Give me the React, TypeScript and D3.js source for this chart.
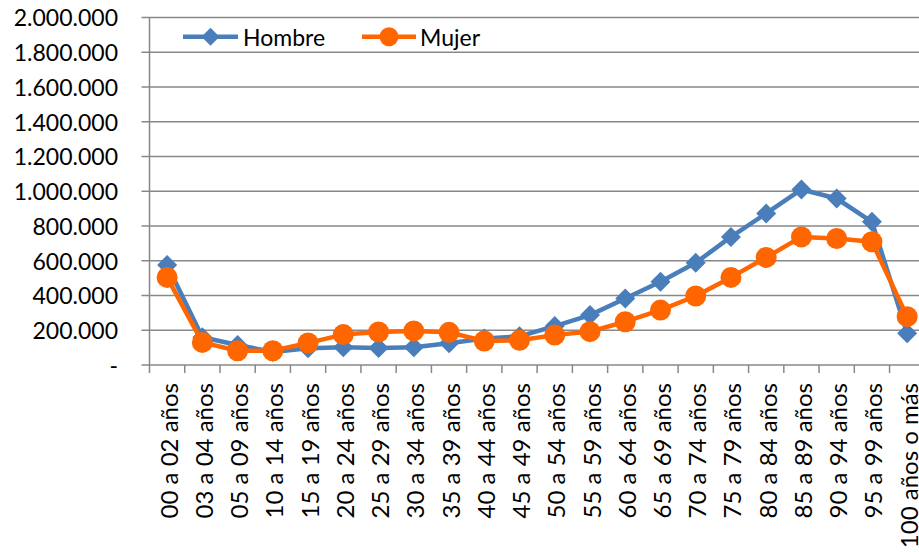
import React from "react";
import * as d3 from "d3";

const categories = [
  "00 a 02 años", "03 a 04 años", "05 a 09 años", "10 a 14 años", "15 a 19 años",
  "20 a 24 años", "25 a 29 años", "30 a 34 años", "35 a 39 años", "40 a 44 años",
  "45 a 49 años", "50 a 54 años", "55 a 59 años", "60 a 64 años", "65 a 69 años",
  "70 a 74 años", "75 a 79 años", "80 a 84 años", "85 a 89 años", "90 a 94 años",
  "95 a 99 años", "100 años o más",
];
const hombre = [
  575000, 160000, 115000, 75000, 96000, 102000, 98000, 102000, 125000, 153000,
  165000, 224000, 287000, 383000, 479000, 588000, 737000, 872000, 1010000, 958000,
  824000, 182000,
];
const mujer = [
  504000, 130000, 82000, 82000, 127000, 175000, 190000, 196000, 188000, 138000,
  142000, 172000, 192000, 249000, 316000, 397000, 504000, 619000, 737000, 728000,
  709000, 278000,
];
const yTicks = [0, 200000, 400000, 600000, 800000, 1000000, 1200000, 1400000, 1600000, 1800000, 2000000];
const seriesNames = ["Hombre", "Mujer"];

const W = 919, H = 552;
const BLUE = "#4A7EBB";
const ORANGE = "#FF6600";
const GRID = "#888888";
const FONT = "Lato, 'Open Sans', sans-serif";
const FS = 23;

const fmt = (v: number) => (v === 0 ? "-" : d3.format(",")(v).replace(/,/g, "."));

export default function App() {
  const left = 149.5;
  const step = 35.24;
  const x = d3.scaleBand<string>().domain(categories).range([left, left + step * categories.length]).padding(0);
  const y = d3.scaleLinear().domain([0, 2000000]).range([365, 17.4]);
  const cx = (c: string) => (x(c) as number) + x.bandwidth() / 2;

  const line = d3.line<number>().x((_, i) => cx(categories[i])).y((d) => y(d));
  const diamond = (px: number, py: number, r: number) =>
    `M${px},${py - r}L${px + r},${py}L${px},${py + r}L${px - r},${py}Z`;

  const x0 = left;
  const yBottom = y(0);

  return (
    <div style={{ position: "fixed", left: 0, top: 0 }}>
      <svg width={W} height={H} style={{ display: "block", background: "#fff" }}>
        {yTicks.map((t) => (
          <g key={t}>
            <line x1={x0 - 8} x2={W + 10} y1={y(t)} y2={y(t)} stroke={GRID} strokeWidth={1.5} />
            <text
              x={118}
              y={y(t)}
              textAnchor="end"
              dominantBaseline="central"
              fontFamily={FONT}
              fontSize={FS}
              fill="#000"
            >
              {fmt(t)}
            </text>
          </g>
        ))}
        <line x1={x0} x2={x0} y1={y(2000000)} y2={yBottom + 8} stroke={GRID} strokeWidth={1.5} />
        {categories.map((c) => (
          <line
            key={"t" + c}
            x1={(x(c) as number) + step}
            x2={(x(c) as number) + step}
            y1={yBottom}
            y2={yBottom + 8}
            stroke={GRID}
            strokeWidth={1.5}
          />
        ))}
        {categories.map((c) => (
          <text
            key={"l" + c}
            transform={`translate(${cx(c) + 1},${383}) rotate(-90)`}
            textAnchor="end"
            dominantBaseline="central"
            fontFamily={FONT}
            fontSize={FS + 1}
            fill="#000"
          >
            {c}
          </text>
        ))}
        <path d={line(hombre) || ""} fill="none" stroke={BLUE} strokeWidth={4.5} strokeLinejoin="round" />
        {hombre.map((v, i) => (
          <path key={"h" + i} d={diamond(cx(categories[i]), y(v), 10)} fill={BLUE} />
        ))}
        <path d={line(mujer) || ""} fill="none" stroke={ORANGE} strokeWidth={4.5} strokeLinejoin="round" />
        {mujer.map((v, i) => (
          <circle key={"m" + i} cx={cx(categories[i])} cy={y(v)} r={10.5} fill={ORANGE} />
        ))}
        <g>
          <line x1={183} x2={238} y1={36.7} y2={36.7} stroke={BLUE} strokeWidth={4.5} />
          <path d={diamond(210.5, 36.7, 9)} fill={BLUE} />
          <text x={243} y={37} dominantBaseline="central" fontFamily={FONT} fontSize={FS} fill="#000">
            {seriesNames[0]}
          </text>
          <line x1={362} x2={416} y1={36.7} y2={36.7} stroke={ORANGE} strokeWidth={4.5} />
          <circle cx={389} cy={36.7} r={9.5} fill={ORANGE} />
          <text x={420} y={37} dominantBaseline="central" fontFamily={FONT} fontSize={FS} fill="#000">
            {seriesNames[1]}
          </text>
        </g>
      </svg>
    </div>
  );
}
